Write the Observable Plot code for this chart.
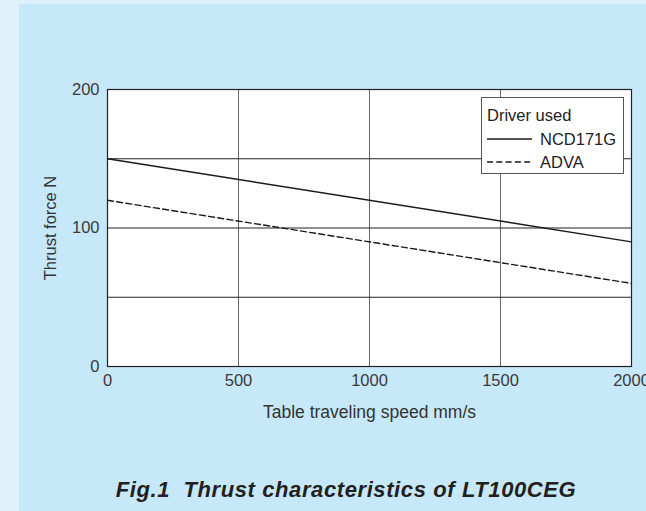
<!DOCTYPE html>
<html>
<head>
<meta charset="utf-8">
<script src="https://cdn.jsdelivr.net/npm/d3@7"></script>
<script src="https://cdn.jsdelivr.net/npm/@observablehq/plot@0.6"></script>
<style>
  html, body { margin: 0; padding: 0; }
  body { width: 646px; height: 511px; background: #def1fa; position: relative; overflow: hidden;
         font-family: "Liberation Sans", Arial, sans-serif; }
  #panel { position: absolute; left: 19px; top: 4px; width: 627px; height: 507px; background: #c6e8f8; }
  #chart { position: absolute; left: 0; top: 0; }
  #chart svg { overflow: visible; background: transparent; }
  #legend { position: absolute; left: 481px; top: 97px; width: 143px; height: 77px; background: #fff;
            border: 1px solid #555; box-sizing: border-box; font-size: 16.5px; color: #222; }
  #legend .t { position: absolute; left: 5px; top: 7px; height: 20px; line-height: 20px; }
  #legend .row { position: absolute; left: 5px; height: 20px; display: flex; align-items: center; }
  #legend .row span { margin-left: 8px; line-height: 20px; }
  #title { position: absolute; top: 477px; left: 0; width: 692px; text-align: center;
           font-weight: bold; font-style: italic; font-size: 22px; letter-spacing: 0.6px; color: #231f20; white-space: pre; }
</style>
</head>
<body>
<div id="panel"></div>
<div id="chart"></div>
<div id="legend"></div>
<div id="title"></div>
<script>
const speeds = [0, 2000];
const ncd171g = [150, 90];
const adva = [120, 60];
const seriesNames = ["NCD171G", "ADVA"];
const seriesDash = ["none", "6,3.3"];
const xTicks = [0, 500, 1000, 1500, 2000];
const yTicks = [0, 100, 200];
const yGrid = [0, 50, 100, 150, 200];
const legendTitle = "Driver used";
const xLabel = "Table traveling speed mm/s";
const yLabel = "Thrust force N";
const titleText = "Fig.1  Thrust characteristics of LT100CEG";

const toRows = (vals, name) => speeds.map((s, j) => ({series: name, speed: s, force: vals[j]}));
const seriesRows = [toRows(ncd171g, seriesNames[0]), toRows(adva, seriesNames[1])];

const chart = Plot.plot({
  width: 646,
  height: 426,
  marginLeft: 107,
  marginRight: 15,
  marginTop: 89,
  marginBottom: 60,
  style: {fontFamily: '"Liberation Sans", Arial, sans-serif', background: "transparent"},
  x: {domain: [0, 2000]},
  y: {domain: [0, 200]},
  marks: [
    Plot.frame({fill: "#fff"}),
    Plot.gridX(xTicks, {stroke: "#666", strokeOpacity: 1, strokeWidth: 1}),
    Plot.gridY(yGrid, {stroke: "#222", strokeOpacity: 1, strokeWidth: 1}),
    ...seriesRows.map((r, i) => Plot.line(r, {x: "speed", y: "force", stroke: "#1a1a1a", strokeWidth: 1.4,
      strokeDasharray: seriesDash[i] === "none" ? null : seriesDash[i]})),
    Plot.axisX({ticks: xTicks, tickFormat: d => String(d), tickSize: 0, tickPadding: 8, fontSize: 16.5, fill: "#3a3a3a", label: null}),
    Plot.axisY({ticks: yTicks, tickFormat: d => String(d), tickSize: 0, tickPadding: 8, fontSize: 16.5, fill: "#3a3a3a", label: null}),
    Plot.text([xLabel], {frameAnchor: "bottom", dy: 46, lineAnchor: "middle", textAnchor: "middle", fontSize: 17.5, fill: "#333"}),
    Plot.text([yLabel], {frameAnchor: "left", dx: -57, rotate: -90, lineAnchor: "middle", textAnchor: "middle", fontSize: 16.5, fill: "#333"}),
    Plot.frame({stroke: "#222", strokeWidth: 1.2})
  ]
});
document.getElementById("chart").appendChild(chart);

const leg = document.getElementById("legend");
leg.innerHTML = `<div class="t">${legendTitle}</div>` + seriesNames.map((n, i) =>
  `<div class="row" style="top:${31 + i * 23}px"><svg width="45" height="10"><line x1="0" x2="45" y1="5" y2="5" stroke="#1a1a1a" stroke-width="1.4" stroke-dasharray="${seriesDash[i]}"/></svg><span>${n}</span></div>`).join("");
document.getElementById("title").textContent = titleText;
</script>
</body>
</html>
